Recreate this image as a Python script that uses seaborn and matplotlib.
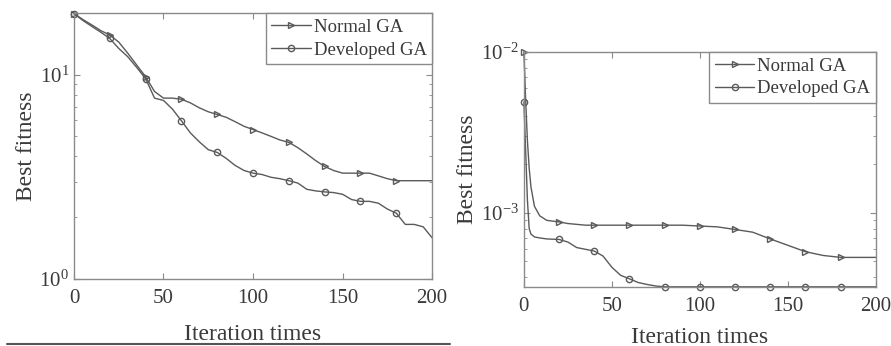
import matplotlib
matplotlib.use('Agg')
import matplotlib.pyplot as plt
from matplotlib.lines import Line2D
import seaborn as sns
import numpy as np

# left panel: best fitness per iteration (read every 5 iterations)
iter_left = [0, 5, 10, 15, 20, 25, 30, 35, 40, 45, 50, 55, 60, 65, 70, 75, 80, 85, 90, 95, 100,
             105, 110, 115, 120, 125, 130, 135, 140, 145, 150, 155, 160, 165, 170, 175, 180,
             185, 190, 195, 200]
normal_left = [20.0, 18.7, 17.6, 16.5, 15.7, 14.5, 12.8, 11.2, 9.8, 8.3, 7.7, 7.7, 7.6, 7.3, 6.9,
               6.6, 6.4, 6.2, 5.9, 5.6, 5.4, 5.2, 5.0, 4.8, 4.67, 4.4, 4.1, 3.8, 3.56, 3.4, 3.3,
               3.3, 3.3, 3.3, 3.2, 3.1, 3.03, 3.03, 3.03, 3.03, 3.03]
developed_left = [20.0, 18.5, 17.3, 16.2, 15.1, 13.5, 12.3, 10.9, 9.6, 7.7, 7.5, 6.8, 5.96, 5.2,
                  4.7, 4.3, 4.17, 3.9, 3.6, 3.4, 3.3, 3.25, 3.15, 3.1, 3.03, 2.95, 2.75, 2.7,
                  2.67, 2.65, 2.6, 2.45, 2.4, 2.4, 2.35, 2.2, 2.1, 1.85, 1.85, 1.8, 1.59]

# right panel
iter_right = [0, 1, 2, 3, 4, 6, 9, 13, 20, 25, 30, 35, 40, 45, 50, 55, 60, 65, 70, 75, 80, 90,
              100, 110, 120, 130, 140, 150, 160, 170, 180, 190, 200]
normal_right = [1.0e-2, 5.0e-3, 2.8e-3, 1.9e-3, 1.45e-3, 1.1e-3, 9.6e-4, 9.0e-4, 8.8e-4, 8.6e-4,
                8.5e-4, 8.4e-4, 8.4e-4, 8.4e-4, 8.4e-4, 8.4e-4, 8.4e-4, 8.4e-4, 8.4e-4, 8.4e-4,
                8.4e-4, 8.4e-4, 8.3e-4, 8.2e-4, 7.9e-4, 7.6e-4, 6.9e-4, 6.3e-4, 5.75e-4, 5.45e-4,
                5.3e-4, 5.3e-4, 5.3e-4]
developed_right = [4.9e-3, 2.4e-3, 1.2e-3, 8.0e-4, 7.4e-4, 7.1e-4, 7.0e-4, 6.9e-4, 6.85e-4,
                   6.6e-4, 6.1e-4, 5.95e-4, 5.8e-4, 5.4e-4, 4.6e-4, 4.1e-4, 3.9e-4, 3.7e-4,
                   3.6e-4, 3.52e-4, 3.48e-4, 3.48e-4, 3.48e-4, 3.48e-4, 3.48e-4, 3.48e-4,
                   3.48e-4, 3.48e-4, 3.48e-4, 3.48e-4, 3.48e-4, 3.48e-4, 3.48e-4]

labels = ["Normal GA", "Developed GA"]

sns.set_style("ticks")
plt.rcParams['font.family'] = ['Liberation Serif', 'DejaVu Serif']
plt.rcParams['mathtext.fontset'] = 'stix'
plt.rcParams['xtick.direction'] = 'in'
plt.rcParams['ytick.direction'] = 'in'

line_col = "#5a5a5a"
text_col = "#3a3a3a"
spine_col = "#8a8a8a"

fig = plt.figure(figsize=(8.91, 3.46), dpi=100)
ax1 = fig.add_axes([0.083, 0.194, 0.402, 0.768])
ax2 = fig.add_axes([0.588, 0.171, 0.395, 0.679])


def draw(ax, x, ys, ylim, xpad):
    for y, lab, mk in zip(ys, labels, [">", "o"]):
        idx = [i for i, v in enumerate(x) if v % 20 == 0 and v < 200]
        sns.lineplot(x=x, y=y, ax=ax, color=line_col, lw=1.0, marker=mk, markevery=idx,
                     markersize=4.5, markerfacecolor="none", markeredgecolor=line_col,
                     markeredgewidth=1.0, label=lab, clip_on=False)
    ax.set_yscale("log")
    ax.set_xlim(0, 200)
    ax.set_ylim(*ylim)
    ax.set_xticks([0, 50, 100, 150, 200])
    ax.set_xlabel("Iteration times", fontsize=17, color=text_col, labelpad=xpad)
    ax.set_ylabel("Best fitness", fontsize=17, color=text_col, labelpad=2)
    ax.tick_params(which="both", top=True, right=True, colors=spine_col,
                   labelcolor=text_col, labelsize=15)
    ax.tick_params(axis="x", which="major", pad=7)
    ax.tick_params(which="major", length=4)
    ax.tick_params(which="minor", length=2)
    for s in ax.spines.values():
        s.set_color(spine_col)
        s.set_linewidth(1.0)
    leg = ax.legend(loc="upper right", bbox_to_anchor=(1.0, 1.0), fontsize=13.5,
                    frameon=True, fancybox=False, framealpha=1, edgecolor=spine_col,
                    borderaxespad=0, handlelength=2.1, handletextpad=0.15,
                    borderpad=0.3, labelspacing=0.3)
    leg.get_frame().set_linewidth(1.0)
    for t in leg.get_texts():
        t.set_color(text_col)


draw(ax1, iter_left, [normal_left, developed_left], (1, 20.1), 12)
draw(ax2, iter_right, [normal_right, developed_right], (3.48e-4, 1e-2), 8)

fig.add_artist(Line2D([0.008, 0.505], [0.006, 0.006], color="#555555", lw=1.5))

plt.savefig("out.png", dpi=100)
plt.close()
